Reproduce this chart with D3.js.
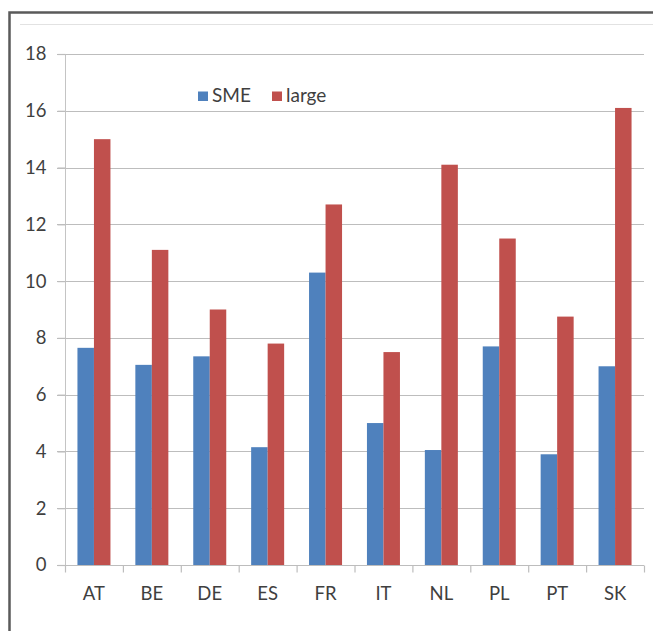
<!DOCTYPE html>
<html>
<head>
<meta charset="utf-8">
<script src="https://cdn.jsdelivr.net/npm/d3@7"></script>
<style>
  html, body { margin: 0; padding: 0; background: #fff; }
  svg { display: block; }
  text { font-family: Lato, "Open Sans", sans-serif; fill: #3f3f3f; }
</style>
</head>
<body>
<svg id="chart" width="653" height="631"></svg>
<script>
const categories = ["AT", "BE", "DE", "ES", "FR", "IT", "NL", "PL", "PT", "SK"];
const seriesNames = ["SME", "large"];
const smeValues   = [7.65, 7.05, 7.35, 4.15, 10.3, 5.0, 4.05, 7.7, 3.9, 7.0];
const largeValues = [15.0, 11.1, 9.0, 7.8, 12.7, 7.5, 14.1, 11.5, 8.75, 16.1];
const yTicks = [0, 2, 4, 6, 8, 10, 12, 14, 16, 18];
const colors = ["#4F81BD", "#C0504D"];

const svg = d3.select("#chart");
const FS = 18.5;

// outer frame
svg.append("rect").attr("x", 9.5).attr("y", 12.5).attr("width", 700).attr("height", 700)
  .attr("fill", "#fff").attr("stroke", "#5a5a5a").attr("stroke-width", 2.5);
svg.append("line").attr("x1", 20).attr("x2", 653).attr("y1", 24.5).attr("y2", 24.5)
  .attr("stroke", "#e2e2e2").attr("stroke-width", 1);

const pLeft = 65, pRight = 644, pTop = 54, pBottom = 565;

const x = d3.scaleBand().domain(categories).range([pLeft, pRight]).paddingInner(0.43).paddingOuter(0.215);
const xCat = d3.scaleBand().domain(categories).range([pLeft, pRight]);
const xSub = d3.scaleBand().domain(seriesNames).range([0, x.bandwidth()]);
const y = d3.scaleLinear().domain([0, 18]).range([pBottom, pTop]);

// gridlines
svg.append("g").selectAll("line").data(yTicks.filter(d => d > 0)).join("line")
  .attr("x1", pLeft - 8).attr("x2", pRight)
  .attr("y1", d => Math.round(y(d)) + 0.5).attr("y2", d => Math.round(y(d)) + 0.5)
  .attr("stroke", "#bdbdbd").attr("stroke-width", 1.2);

// y axis
const yAxis = svg.append("g").attr("transform", `translate(${pLeft + 0.5},0)`)
  .call(d3.axisLeft(y).tickValues(yTicks).tickSize(8).tickPadding(11).tickFormat(d3.format("d")));
yAxis.select(".domain").attr("stroke", "#c4c4c4").attr("d", `M0,${pTop}V${pBottom}`);
yAxis.selectAll(".tick line").attr("stroke", "#bdbdbd").attr("stroke-width", 1.2);
yAxis.selectAll("text").attr("font-size", FS).attr("fill", "#3f3f3f")
  .style("font-family", "Lato, 'Open Sans', sans-serif");

// bars
const data = categories.map((c, i) => ({ cat: c, vals: [smeValues[i], largeValues[i]] }));
svg.append("g").selectAll("g").data(data).join("g")
  .attr("transform", d => `translate(${x(d.cat)},0)`)
  .selectAll("rect").data(d => d.vals.map((v, j) => ({ key: seriesNames[j], v, j }))).join("rect")
  .attr("x", d => xSub(d.key)).attr("width", xSub.bandwidth())
  .attr("y", d => y(d.v)).attr("height", d => y(0) - y(d.v))
  .attr("fill", d => colors[d.j]);

// x axis
const xAxisG = svg.append("g").attr("transform", `translate(0,${pBottom + 0.5})`);
xAxisG.append("line").attr("x1", pLeft - 8).attr("x2", pRight).attr("stroke", "#bdbdbd").attr("stroke-width", 1.2);
xAxisG.selectAll("line.tk").data(categories.map(c => xCat(c)).concat([pRight])).join("line")
  .attr("class", "tk").attr("x1", d => d + 0.5).attr("x2", d => d + 0.5).attr("y1", 0).attr("y2", 7)
  .attr("stroke", "#bdbdbd").attr("stroke-width", 1.2);
xAxisG.selectAll("text").data(categories).join("text")
  .attr("x", d => xCat(d) + xCat.bandwidth() / 2).attr("y", 34)
  .attr("text-anchor", "middle").attr("font-size", FS).text(d => d);

// legend
const legend = svg.append("g").attr("transform", "translate(198,90)");
const legX = [0, 74];
seriesNames.forEach((n, i) => {
  const g = legend.append("g").attr("transform", `translate(${legX[i]},0)`);
  g.append("rect").attr("x", 0).attr("y", 1.5).attr("width", 10).attr("height", 9.5).attr("fill", colors[i]);
  g.append("text").attr("x", 14).attr("y", 11.5).attr("font-size", FS + 0.5).text(n);
});
</script>
</body>
</html>
